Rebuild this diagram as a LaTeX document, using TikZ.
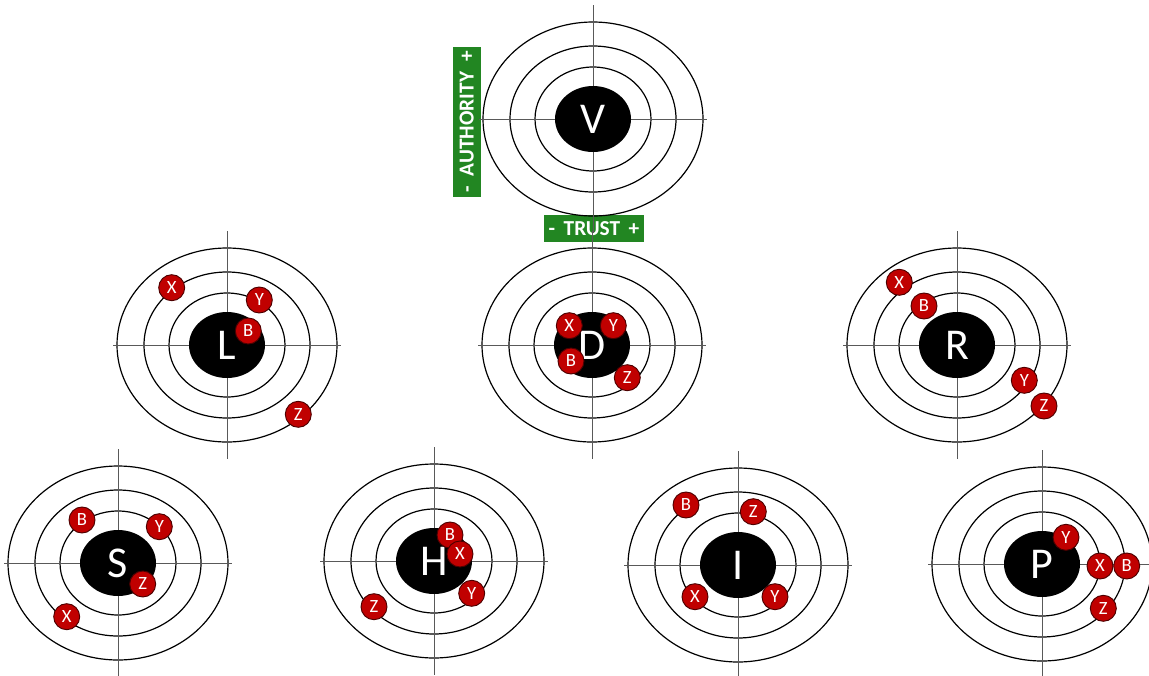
\documentclass[tikz,border=0pt]{standalone}
\usepackage{fontspec}
\setmainfont{Carlito}
\usetikzlibrary{shapes.geometric}
\definecolor{badgered}{RGB}{192,0,0}
\definecolor{labgreen}{RGB}{34,134,34}
\tikzset{
  ring/.style={draw=black, line width=0.9pt},
  hair/.style={draw=black!65, line width=0.7pt},
  core/.style={ellipse, fill=black, minimum width=57pt, minimum height=49.5pt, inner sep=0pt, text=white, font=\fontsize{33}{33}\selectfont},
  badge/.style={circle, fill=badgered, draw=black!60!badgered, line width=0.7pt, minimum size=19.5pt, inner sep=0pt, text=white, font=\fontsize{14}{14}\selectfont},
  axislabel/.style={fill=labgreen, text=white, font=\bfseries\fontsize{16}{16}\selectfont, inner sep=0pt},
}
\newcommand\mytarget[4]{%
  \draw[ring] (#2,#3) ellipse [x radius=82.5pt, y radius=72.75pt];
  \draw[ring] (#2,#3) ellipse [x radius=62.25pt, y radius=54.75pt];
  \draw[ring] (#2,#3) ellipse [x radius=43.5pt, y radius=39pt];
  \draw[hair] (#2,#3) ++(-114,0) -- ++(228,0);
  \draw[hair] (#2,#3) ++(0,-114) -- ++(0,228);
  \node[core] (#1) at (#2,#3) {#4};
}
\begin{document}
\begin{tikzpicture}[x=0.75pt, y=-0.75pt]
\useasboundingbox (0,0) rectangle (1149,675);
\clip (0,0) rectangle (1149,675);
% axis labels
\node[axislabel, rotate=90, minimum width=113pt, minimum height=21pt] (auth) at (466.7,122) {\makebox[106pt]{-\hfill AUTHORITY\hfill +}};
\node[axislabel, minimum width=75pt, minimum height=20.25pt] (trust) at (594,228.5) {\makebox[68pt]{-\hfill TRUST\hfill +}};
% targets
\mytarget{V}{593}{119}{V}
\mytarget{L}{227}{345}{L}
\mytarget{D}{592}{345}{D}
\mytarget{R}{957}{345}{R}
\mytarget{S}{118}{563}{S}
\mytarget{H}{434}{561}{H}
\mytarget{I}{738}{565}{I}
\mytarget{P}{1042}{564}{P}
% badges L
\node[badge] (L-X) at (171.7,287.7) {X};
\node[badge] (L-Y) at (259.3,300) {Y};
\node[badge] (L-B) at (248.3,331) {B};
\node[badge] (L-Z) at (298.3,414.3) {Z};
% badges D
\node[badge] (D-X) at (569.3,325.7) {X};
\node[badge] (D-Y) at (613.3,325.7) {Y};
\node[badge] (D-B) at (571,361) {B};
\node[badge] (D-Z) at (627.3,377.7) {Z};
% badges R
\node[badge] (R-X) at (899.3,282.3) {X};
\node[badge] (R-B) at (924,306) {B};
\node[badge] (R-Y) at (1024.3,380.3) {Y};
\node[badge] (R-Z) at (1044,406) {Z};
% badges S
\node[badge] (S-B) at (82,520) {B};
\node[badge] (S-Y) at (159.3,526.7) {Y};
\node[badge] (S-Z) at (142.7,584) {Z};
\node[badge] (S-X) at (66.7,616.7) {X};
% badges H
\node[badge] (H-B) at (450,535) {B};
\node[badge] (H-X) at (460,554) {X};
\node[badge] (H-Y) at (471.7,593.3) {Y};
\node[badge] (H-Z) at (374,606.7) {Z};
% badges I
\node[badge] (I-B) at (686,505) {B};
\node[badge] (I-Z) at (753.3,511.7) {Z};
\node[badge] (I-X) at (695,596.7) {X};
\node[badge] (I-Y) at (775,596.7) {Y};
% badges P
\node[badge] (P-Y) at (1066,537.3) {Y};
\node[badge] (P-X) at (1100,566) {X};
\node[badge] (P-B) at (1126.7,566) {B};
\node[badge] (P-Z) at (1103.3,608.3) {Z};
\end{tikzpicture}
\end{document}
